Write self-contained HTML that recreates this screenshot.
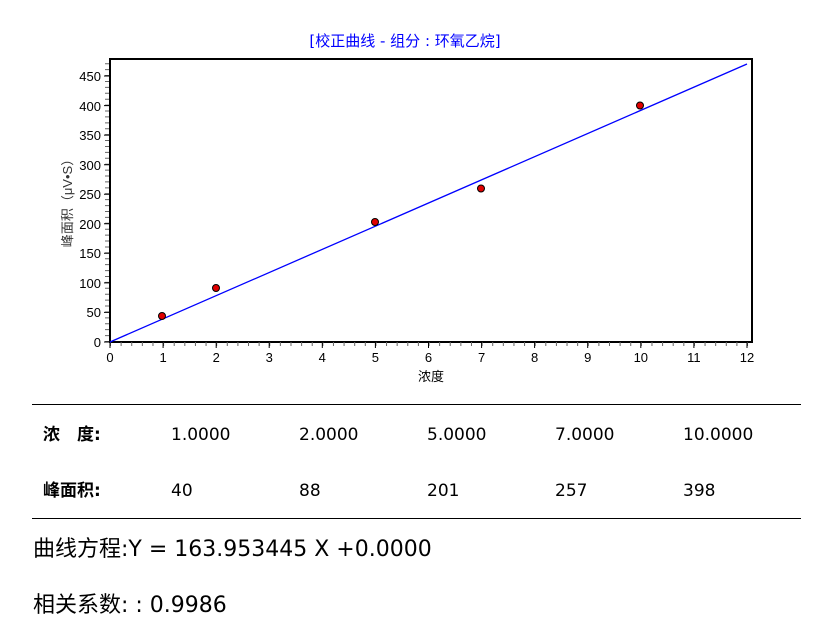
<!DOCTYPE html>
<html><head><meta charset="utf-8"><style>
body{margin:0;background:#fff;width:838px;height:627px;overflow:hidden;font-family:"Liberation Sans","Noto Sans CJK SC",sans-serif}
</style></head><body>
<svg width="838" height="627" xmlns="http://www.w3.org/2000/svg" style="position:absolute;left:0;top:0">
<text x="405" y="46" text-anchor="middle" font-size="15" fill="#0000ff" font-family="DejaVu Sans, Noto Sans CJK SC, sans-serif">[校正曲线 - 组分 : 环氧乙烷]</text>
<rect x="110" y="59" width="642" height="283" fill="none" stroke="#000" stroke-width="2"/>
<line x1="110" y1="344" x2="748" y2="344" stroke="#666" stroke-width="4" stroke-dasharray="1 9.617"/>
<line x1="107" y1="342" x2="107" y2="60" stroke="#666" stroke-width="4" stroke-dasharray="1 4.91"/>
<g stroke="#000" stroke-width="1">
<path d="M110 342v6M163.1 342v6M216.2 342v6M269.2 342v6M322.3 342v6M375.4 342v6M428.5 342v6M481.6 342v6M534.6 342v6M587.7 342v6M640.8 342v6M693.9 342v6M747 342v6"/>
<path d="M104 342h6M104 312.4h6M104 282.9h6M104 253.3h6M104 223.8h6M104 194.2h6M104 164.7h6M104 135.1h6M104 105.6h6M104 76h6"/>
</g>
<g font-size="13" fill="#000" text-anchor="middle">
<text x="110" y="362">0</text><text x="163.1" y="362">1</text><text x="216.2" y="362">2</text><text x="269.2" y="362">3</text><text x="322.3" y="362">4</text><text x="375.4" y="362">5</text><text x="428.5" y="362">6</text><text x="481.6" y="362">7</text><text x="534.6" y="362">8</text><text x="587.7" y="362">9</text><text x="640.8" y="362">10</text><text x="693.9" y="362">11</text><text x="747" y="362">12</text>
</g>
<g font-size="13" fill="#000" text-anchor="end">
<text x="101" y="347">0</text><text x="101" y="317">50</text><text x="101" y="288">100</text><text x="101" y="258">150</text><text x="101" y="229">200</text><text x="101" y="199">250</text><text x="101" y="170">300</text><text x="101" y="140">350</text><text x="101" y="111">400</text><text x="101" y="81">450</text>
</g>
<text x="431" y="381" text-anchor="middle" font-size="13">浓度</text>
<text transform="translate(72,200) rotate(-90)" text-anchor="middle" font-size="13" fill="#333">峰面积（μV•S）</text>
<line x1="110" y1="342" x2="747" y2="64" stroke="#0000ff" stroke-width="1.3"/>
<g fill="#e00000" stroke="#000" stroke-width="1">
<circle cx="162" cy="316" r="3.5"/><circle cx="216" cy="288" r="3.5"/><circle cx="375" cy="222" r="3.5"/><circle cx="481" cy="188.5" r="3.5"/><circle cx="640" cy="105.5" r="3.5"/>
</g>
<line x1="32" y1="404.5" x2="801" y2="404.5" stroke="#000"/>
<line x1="32" y1="518.5" x2="801" y2="518.5" stroke="#000"/>
<g font-size="17" fill="#000" font-family="DejaVu Sans, Noto Sans CJK SC, sans-serif">
<text x="43" y="440" font-weight="bold">浓　度:</text>
<text x="171" y="440">1.0000</text><text x="299" y="440">2.0000</text><text x="427" y="440">5.0000</text><text x="555" y="440">7.0000</text><text x="683" y="440">10.0000</text>
<text x="43" y="496" font-weight="bold">峰面积:</text>
<text x="171" y="496">40</text><text x="299" y="496">88</text><text x="427" y="496">201</text><text x="555" y="496">257</text><text x="683" y="496">398</text>
</g>
<g font-size="22" fill="#000" font-family="DejaVu Sans, Noto Sans CJK SC, sans-serif">
<text x="33" y="556">曲线方程:Y = 163.953445 X +0.0000</text>
<text x="33" y="612">相关系数: : 0.9986</text>
</g>
</svg>
</body></html>
